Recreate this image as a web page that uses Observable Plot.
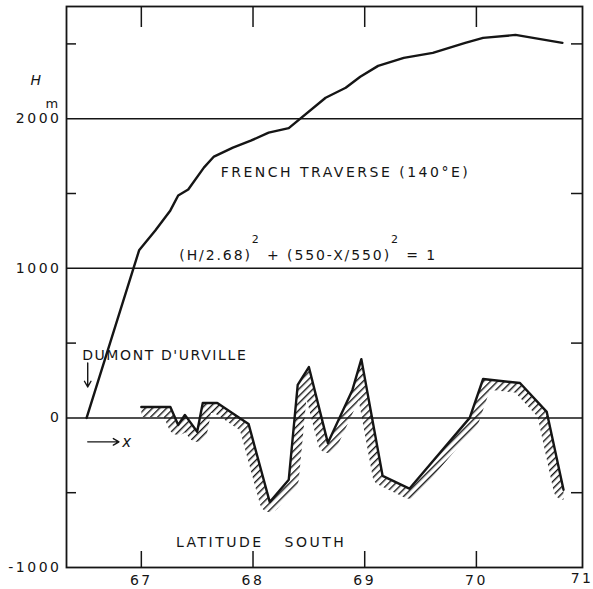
<!DOCTYPE html>
<html><head><meta charset="utf-8">
<script src="https://cdn.jsdelivr.net/npm/d3@7"></script>
<script src="https://cdn.jsdelivr.net/npm/@observablehq/plot@0.6"></script>
<style>
html,body{margin:0;padding:0;background:#fff;}
#chart{width:593px;height:589px;overflow:hidden;}
#chart svg text{letter-spacing:2.5px;}
</style></head><body><div id="chart"></div>
<script>
// French traverse surface profile (latitude south, elevation H in m)
const traverseLat = [66.51, 66.98, 67.125, 67.26, 67.33, 67.42, 67.56, 67.65, 67.82, 67.98, 68.14, 68.32, 68.65, 68.83, 68.96, 69.12, 69.35, 69.61, 69.90, 70.06, 70.35, 70.77];
const traverseH   = [0, 1120, 1253, 1387, 1487, 1527, 1673, 1747, 1807, 1853, 1907, 1937, 2140, 2207, 2280, 2353, 2407, 2440, 2507, 2540, 2560, 2507];
// bedrock profile (hatched)
const bedLat = [67.00, 67.26, 67.33, 67.39, 67.50, 67.55, 67.68, 67.96, 68.15, 68.32, 68.40, 68.50, 68.67, 68.89, 68.97, 69.16, 69.40, 69.94, 70.06, 70.39, 70.63, 70.78];
const bedH   = [73, 73, -47, 20, -93, 100, 100, -40, -563, -413, 220, 340, -167, 187, 393, -387, -473, 0, 260, 233, 40, -480];

const gridH = [2000, 1000, 0];
const yLabelTicks = [2000, 1000, 0, -1000];
const yLabelText = ["2000", "1000", "0", "-1000"];
const yMinorTicks = [2500, 1500, 500, -500];
const xTicks = [67, 68, 69, 70];
const xTickText = ["67", "68", "69", "70"];
const xEdgeTick = [71];
const xEdgeText = ["71"];

const noteLat  = [67.71, 67.34, 66.47, 67.31];
const noteH    = [1640, 1087, 420, -833];
const noteText = ["FRENCH TRAVERSE (140°E)", "(H/2.68)^2 + (550-X/550)^2 = 1", "DUMONT D'URVILLE", "LATITUDE\u00a0\u00a0 SOUTH"];
const noteSpacing = ["2.5px", "1.9px", "1.6px", "2.5px"];

const arrowLat1 = [66.52, 66.52];
const arrowH1   = [367, -160];
const arrowLat2 = [66.52, 66.80];
const arrowH2   = [207, -160];

const traverse = traverseLat.map((lat, i) => ({lat, h: traverseH[i]}));
const bed = bedLat.map((lat, i) => ({lat, h: bedH[i]}));
const notes = noteLat.map((lat, i) => ({lat, h: noteH[i], text: noteText[i]}));
const arrows = arrowLat1.map((l, i) => ({x1: l, y1: arrowH1[i], x2: arrowLat2[i], y2: arrowH2[i]}));

const ink = "#151515";
const fontFam = "'DejaVu Sans', sans-serif";

const chart = Plot.plot({
  width: 593, height: 589,
  marginLeft: 66, marginRight: 11, marginTop: 6, marginBottom: 22,
  x: {domain: [66.33, 70.95]},
  y: {domain: [-1000, 2750]},
  style: {background: "#fff", color: ink, fontFamily: fontFam, fontSize: "14px"},
  marks: [
    Plot.areaY(bed, {x: "lat", y1: -1000, y2: "h", fill: "none"}),
    Plot.line(bed, {x: "lat", y: "h", stroke: "url(#hatch)", strokeWidth: 20, strokeLinejoin: "round"}),
    Plot.ruleY(gridH, {stroke: ink, strokeWidth: 1.5}),
    Plot.line(traverse, {x: "lat", y: "h", stroke: ink, strokeWidth: 2.4}),
    Plot.line(bed, {x: "lat", y: "h", stroke: ink, strokeWidth: 2.4}),
    Plot.frame({stroke: ink, strokeWidth: 1.8}),
    Plot.axisY({ticks: yMinorTicks, tickSize: -10, fill: "none", strokeWidth: 1.5, label: null}),
    Plot.axisY({anchor: "right", ticks: yMinorTicks, tickSize: -12, fill: "none", strokeWidth: 1.5, label: null}),
    Plot.axisX({anchor: "bottom", ticks: xTicks, tickSize: -16, fill: "none", strokeWidth: 1.5, label: null}),
    Plot.axisX({anchor: "top", ticks: xTicks, tickSize: -20, fill: "none", strokeWidth: 1.5, label: null}),
    Plot.axisY({ticks: yLabelTicks, tickSize: 0, tickPadding: 5, fontSize: 14, label: null,
      tickFormat: d => yLabelText[yLabelTicks.indexOf(d)]}),
    Plot.axisX({anchor: "bottom", ticks: xTicks, tickSize: 0, tickPadding: 8, fontSize: 14, label: null,
      tickFormat: d => xTickText[xTicks.indexOf(d)]}),
    Plot.text(xEdgeTick, {x: d => d, frameAnchor: "bottom", dy: 15, dx: -6, text: (d, i) => xEdgeText[i], fontSize: 14}),
    Plot.text(notes, {x: "lat", y: "h", text: "text", textAnchor: "start", fontSize: 14}),
    Plot.arrow(arrows, {x1: "x1", y1: "y1", x2: "x2", y2: "y2", stroke: ink, strokeWidth: 1.4, headLength: 7}),
    Plot.text(["x"], {x: () => 66.88, y: () => -160, text: d => d, fontSize: 15, fontStyle: "italic"}),
    Plot.text(["H"], {frameAnchor: "left", y: () => 2253, dx: -36, text: d => d, fontSize: 14, fontStyle: "italic"}),
    Plot.text(["m"], {frameAnchor: "left", y: () => 2100, dx: -21, text: d => d, fontSize: 13})
  ]
});

const svg = d3.select(chart);
const defs = svg.insert("defs", ":first-child");
const pat = defs.append("pattern").attr("id", "hatch").attr("patternUnits", "userSpaceOnUse")
  .attr("width", 5).attr("height", 5).attr("patternTransform", "rotate(45)");
pat.append("line").attr("x1", 0.7).attr("y1", 0).attr("x2", 0.7).attr("y2", 5)
  .attr("stroke", ink).attr("stroke-width", 1.4);

const areaG = svg.select('g[aria-label="area"]');
const areaPath = areaG.select("path");
const cp = defs.append("clipPath").attr("id", "bedclip").attr("clipPathUnits", "userSpaceOnUse");
const cpp = cp.append("path").attr("d", areaPath.attr("d"));
if (areaG.attr("transform")) cpp.attr("transform", areaG.attr("transform"));
areaG.remove();
svg.selectAll("g").filter(function () { return this.getAttribute("stroke") === "url(#hatch)"; })
  .attr("clip-path", "url(#bedclip)");

// per-annotation letter spacing
svg.selectAll("text").each(function () {
  const i = noteText.indexOf(this.textContent);
  if (i >= 0) this.style.letterSpacing = noteSpacing[i];
});

// superscripts in the formula
svg.selectAll("text").each(function () {
  const s = this.textContent;
  if (!s.includes("^2")) return;
  const t = d3.select(this);
  t.text(null);
  const parts = s.split("^2");
  parts.forEach((p, i) => {
    t.append("tspan").attr("dy", i === 0 ? null : 17).text(p);
    if (i < parts.length - 1) t.append("tspan").attr("dy", -17).attr("font-size", 11).text("2");
  });
});

document.getElementById("chart").appendChild(chart);
</script>
</body></html>
